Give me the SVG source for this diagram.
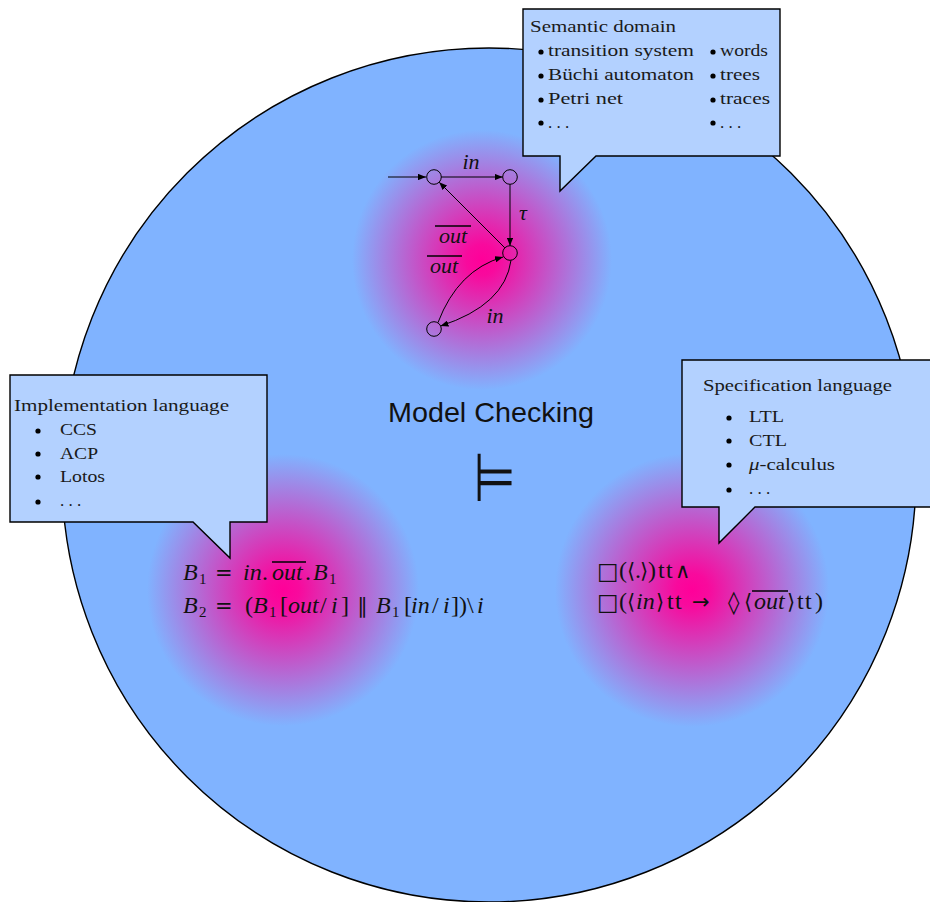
<svg xmlns="http://www.w3.org/2000/svg" width="930" height="902" viewBox="0 0 930 902">
  <defs>
    <radialGradient id="glow" cx="0.5" cy="0.5" r="0.5">
      <stop offset="0" stop-color="#ff0099"/>
      <stop offset="0.12" stop-color="#f80a9d"/>
      <stop offset="1" stop-color="#80b3ff"/>
    </radialGradient>
    <marker id="tip" viewBox="0 0 10 8" refX="10" refY="4" markerWidth="8" markerHeight="6.4" markerUnits="userSpaceOnUse" orient="auto">
      <path d="M0,0 L10,4 L0,8 z" fill="#000"/>
    </marker>
    <style>
      .edge { fill: none; stroke: #000; stroke-width: 1; marker-end: url(#tip); }
      .state { fill: none; stroke: #000; stroke-width: 1; }
      .call { fill: #b3d1ff; stroke: #000; stroke-width: 1.4; stroke-linejoin: miter; }
      .ct { font-family: "Liberation Serif", "DejaVu Serif", serif; font-size: 17px; fill: #1a1a1a; }
      .math { font-family: "Liberation Serif", "DejaVu Serif", "DejaVu Sans", serif; font-size: 24px; fill: #111; }
      .lab { font-family: "Liberation Serif", "DejaVu Serif", serif; font-size: 22px; font-style: italic; fill: #111; text-anchor: middle; }
      .it { font-style: italic; }
      .sub { font-size: 15px; font-style: normal; }
      .sym { font-family: "DejaVu Sans", sans-serif; font-size: 21px; }
      .box { font-family: "DejaVu Sans", sans-serif; font-size: 23px; }
      .loz { font-family: "DejaVu Sans", sans-serif; font-size: 23px; }
      .ovl { stroke: #000; stroke-width: 1.4; }
      .dot { fill: #000; }
    </style>
  </defs>

  <!-- outer disc -->
  <circle id="world" cx="489" cy="475" r="427" fill="#80b3ff" stroke="#000" stroke-width="1.4"/>

  <!-- soft highlights behind each part -->
  <circle id="glow-top" cx="482" cy="260" r="130" fill="url(#glow)"/>
  <circle id="glow-left" cx="283" cy="590" r="136" fill="url(#glow)"/>
  <circle id="glow-right" cx="692" cy="590" r="137" fill="url(#glow)"/>

  <!-- title and satisfaction symbol -->
  <g id="title">
    <text x="388" y="422" font-family="Liberation Sans, Arial, sans-serif" font-size="28" textLength="206" lengthAdjust="spacingAndGlyphs" fill="#111">Model Checking</text>
    <text x="473.5" y="501.5" font-family="DejaVu Sans, sans-serif" font-size="52" fill="#111" transform="translate(473.5 501.5) scale(0.93 1.3) translate(-473.5 -501.5)">⊨</text>
  </g>

  <!-- automaton states -->
  <g id="s0"><circle class="state" cx="434" cy="177" r="7.3"/></g>
  <g id="s1"><circle class="state" cx="510" cy="177" r="7.3"/></g>
  <g id="s2"><circle class="state" cx="510" cy="253" r="7.3"/></g>
  <g id="s3"><circle class="state" cx="434" cy="329" r="7.3"/></g>

  <!-- automaton transitions -->
  <g id="transitions">
    <path class="edge" d="M388,177 L426,177"/>
    <path class="edge" d="M441.3,177 L502.7,177"/>
    <path class="edge" d="M510,184.3 L510,245.7"/>
    <path class="edge" d="M504.8,247.8 L439.2,182.2"/>
    <path class="edge" d="M438,322.5 Q458,270 503,257"/>
    <path class="edge" d="M511,260.3 Q505,305 440.5,326"/>
  </g>
  <g id="transition-labels">
    <text class="lab" x="471" y="169">in</text>
    <text class="lab" x="523" y="220">τ</text>
    <text class="lab" x="453" y="243">out</text>
    <line class="ovl" x1="435" y1="226" x2="471" y2="226"/>
    <text class="lab" x="444" y="273">out</text>
    <line class="ovl" x1="427" y1="256" x2="462" y2="256"/>
    <text class="lab" x="495" y="323">in</text>
  </g>

  <!-- implementation terms -->
  <g id="impl-terms">
    <text class="math"><tspan x="183" y="580" class="it">B</tspan><tspan x="199" y="584" class="sub">1</tspan><tspan x="215" y="580" class="sym">=</tspan><tspan x="243" y="580" class="it">in</tspan><tspan x="262" y="580">.</tspan><tspan x="272" y="580" class="it">out</tspan><tspan x="305" y="580">.</tspan><tspan x="313" y="580" class="it">B</tspan><tspan x="329" y="584" class="sub">1</tspan></text>
    <line class="ovl" x1="272" y1="562" x2="306" y2="562"/>
    <text class="math"><tspan x="183" y="613" class="it">B</tspan><tspan x="199" y="617" class="sub">2</tspan><tspan x="215" y="613" class="sym">=</tspan><tspan x="245" y="613">(</tspan><tspan x="253" y="613" class="it">B</tspan><tspan x="269" y="617" class="sub">1</tspan><tspan x="280" y="613">[</tspan><tspan x="288" y="613" class="it">out</tspan><tspan x="320" y="613">/</tspan><tspan x="331" y="613" class="it">i</tspan><tspan x="341" y="613">]</tspan><tspan x="357" y="613" class="sym">∥</tspan><tspan x="376" y="613" class="it">B</tspan><tspan x="392" y="617" class="sub">1</tspan><tspan x="404" y="613">[</tspan><tspan x="411" y="613" class="it">in</tspan><tspan x="432" y="613">/</tspan><tspan x="443" y="613" class="it">i</tspan><tspan x="451" y="613">]</tspan><tspan x="459" y="613">)</tspan><tspan x="467" y="613">\</tspan><tspan x="477" y="613" class="it">i</tspan></text>
  </g>

  <!-- specification formulas -->
  <g id="spec-formulas">
    <text class="math"><tspan x="597" y="579" class="box">□</tspan><tspan x="619" y="578">(</tspan><tspan x="627" y="578" class="sym">⟨</tspan><tspan x="635" y="578">.</tspan><tspan x="640" y="578" class="sym">⟩</tspan><tspan x="648" y="578">)</tspan><tspan x="658" y="578">t</tspan><tspan x="666" y="578">t</tspan><tspan x="675" y="578" class="sym">∧</tspan></text>
    <text class="math"><tspan x="597" y="610" class="box">□</tspan><tspan x="619" y="609">(</tspan><tspan x="627" y="609" class="sym">⟨</tspan><tspan x="636" y="609" class="it">in</tspan><tspan x="656" y="609" class="sym">⟩</tspan><tspan x="667" y="609">t</tspan><tspan x="675" y="609">t</tspan><tspan x="692" y="609" class="sym">→</tspan><tspan x="728" y="610" class="loz">◊</tspan><tspan x="744" y="609" class="sym">⟨</tspan><tspan x="754" y="609" class="it">out</tspan><tspan x="787" y="609" class="sym">⟩</tspan><tspan x="797" y="609">t</tspan><tspan x="805" y="609">t</tspan><tspan x="815" y="609">)</tspan></text>
    <line class="ovl" x1="752" y1="591" x2="788" y2="591"/>
  </g>

  <!-- callout: semantic domain -->
  <g id="semantic-domain">
    <path class="call" d="M523,9 H780 V156 H596 L560,191 V156 H523 Z"/>
    <text class="ct" x="530" y="32" textLength="146" lengthAdjust="spacingAndGlyphs">Semantic domain</text>
    <circle class="dot" cx="541" cy="52" r="2.6"/>
    <circle class="dot" cx="541" cy="76" r="2.6"/>
    <circle class="dot" cx="541" cy="100" r="2.6"/>
    <circle class="dot" cx="541" cy="123" r="2.6"/>
    <text class="ct" x="548" y="56" textLength="146" lengthAdjust="spacingAndGlyphs">transition system</text>
    <text class="ct" x="548" y="80" textLength="146" lengthAdjust="spacingAndGlyphs">Büchi automaton</text>
    <text class="ct" x="548" y="104" textLength="75" lengthAdjust="spacingAndGlyphs">Petri net</text>
    <text class="ct" x="548" y="128">. . .</text>
    <circle class="dot" cx="713" cy="52" r="2.6"/>
    <circle class="dot" cx="713" cy="76" r="2.6"/>
    <circle class="dot" cx="713" cy="100" r="2.6"/>
    <circle class="dot" cx="713" cy="123" r="2.6"/>
    <text class="ct" x="720" y="56" textLength="48" lengthAdjust="spacingAndGlyphs">words</text>
    <text class="ct" x="720" y="80" textLength="40" lengthAdjust="spacingAndGlyphs">trees</text>
    <text class="ct" x="720" y="104" textLength="50" lengthAdjust="spacingAndGlyphs">traces</text>
    <text class="ct" x="720" y="128">. . .</text>
  </g>

  <!-- callout: implementation language -->
  <g id="implementation-language">
    <path class="call" d="M10,375 H267 V522 H230 V558 L193,522 H10 Z"/>
    <text class="ct" x="14" y="411" textLength="215" lengthAdjust="spacingAndGlyphs">Implementation language</text>
    <circle class="dot" cx="38" cy="431" r="2.6"/>
    <circle class="dot" cx="38" cy="454" r="2.6"/>
    <circle class="dot" cx="38" cy="477" r="2.6"/>
    <circle class="dot" cx="38" cy="502" r="2.6"/>
    <text class="ct" x="60" y="435" textLength="37" lengthAdjust="spacingAndGlyphs">CCS</text>
    <text class="ct" x="60" y="459" textLength="38" lengthAdjust="spacingAndGlyphs">ACP</text>
    <text class="ct" x="60" y="482" textLength="45" lengthAdjust="spacingAndGlyphs">Lotos</text>
    <text class="ct" x="60" y="506">. . .</text>
  </g>

  <!-- callout: specification language -->
  <g id="specification-language">
    <path class="call" d="M682,360 H934 V507 H755 L719,543 V507 H682 Z"/>
    <text class="ct" x="703" y="391" textLength="189" lengthAdjust="spacingAndGlyphs">Specification language</text>
    <circle class="dot" cx="729" cy="418" r="2.6"/>
    <circle class="dot" cx="729" cy="441" r="2.6"/>
    <circle class="dot" cx="729" cy="465" r="2.6"/>
    <circle class="dot" cx="729" cy="490" r="2.6"/>
    <text class="ct" x="749" y="422" textLength="35" lengthAdjust="spacingAndGlyphs">LTL</text>
    <text class="ct" x="749" y="446" textLength="38" lengthAdjust="spacingAndGlyphs">CTL</text>
    <text class="ct" x="749" y="470" textLength="86" lengthAdjust="spacingAndGlyphs"><tspan class="it">μ</tspan>-calculus</text>
    <text class="ct" x="749" y="494">. . .</text>
  </g>
</svg>
